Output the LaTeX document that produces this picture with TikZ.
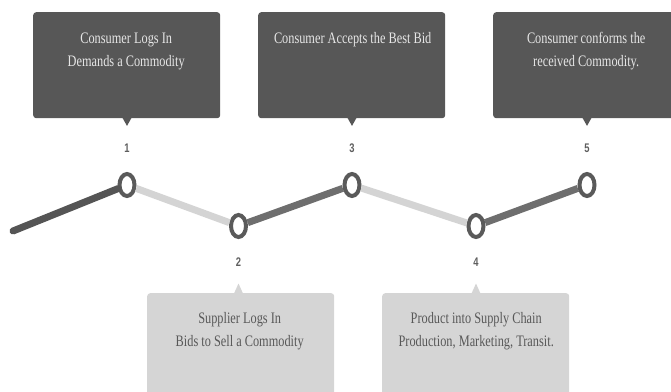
\documentclass[tikz,border=0pt]{standalone}
\usepackage{fontspec}
\setmainfont[FakeStretch=0.77]{Liberation Serif}
\newfontfamily\numfont[FakeStretch=0.75]{Liberation Sans}
\usetikzlibrary{shapes.geometric}

\definecolor{carddark}{HTML}{575757}
\definecolor{cardlight}{HTML}{D5D5D5}
\definecolor{inkdark}{HTML}{585858}
\definecolor{inklight}{HTML}{E6E6E6}
\definecolor{segdark}{HTML}{555555}
\definecolor{segmid}{HTML}{6E6E6E}
\definecolor{seglight}{HTML}{D4D4D4}
\definecolor{ringcol}{HTML}{5A5A5A}
\definecolor{numcol}{HTML}{5E5E5E}

\begin{document}
\begin{tikzpicture}[x=1pt,y=-1pt,
  card/.style={rounded corners=3pt, minimum width=187pt, minimum height=106pt,
    inner sep=0pt, anchor=north west},
  darkcard/.style={card, fill=carddark},
  lightcard/.style={card, fill=cardlight, minimum height=120pt},
  cardtext/.style={align=center, inner sep=0pt,
    font=\fontsize{16}{23}\selectfont},
  darktext/.style={cardtext, text=inklight},
  lighttext/.style={cardtext, text=inkdark},
  milestone/.style={ellipse, draw=ringcol, line width=4pt, fill=white,
    minimum width=15pt, minimum height=22pt, inner sep=0pt},
  numlabel/.style={text=numcol, inner sep=0pt,
    font=\numfont\bfseries\fontsize{12.5}{12.5}\selectfont},
  seg/.style={line width=7pt},
]
\useasboundingbox (0,0) rectangle (671,391);
\clip (0,0) rectangle (671,391);

% timeline milestones
\coordinate (s) at (13,231);
\node[milestone] (c1) at (127,185) {};
\node[milestone] (c2) at (238.5,226) {};
\node[milestone] (c3) at (352,185) {};
\node[milestone] (c4) at (476,226) {};
\node[milestone] (c5) at (587,185) {};

% timeline segments
\draw[seg, segdark, line cap=round] (s) -- (c1);
\draw[seg, seglight] (c1) -- (c2);
\draw[seg, segmid] (c2) -- (c3);
\draw[seg, seglight] (c3) -- (c4);
\draw[seg, segmid] (c4) -- (c5);

% step numbers
\node[numlabel] (n1) at ([yshift=37pt]c1) {1};
\node[numlabel] (n2) at ([yshift=-36pt]c2) {2};
\node[numlabel] (n3) at ([yshift=37pt]c3) {3};
\node[numlabel] (n4) at ([yshift=-36pt]c4) {4};
\node[numlabel] (n5) at ([yshift=37pt]c5) {5};

% upper cards (consumer side)
\node[darkcard] (b1) at (33,12) {};
\node[darkcard] (b3) at (258,12) {};
\node[darkcard] (b5) at (493,12) {};
\fill[carddark] ([xshift=-4.5pt,yshift=0.5pt]c1 |- b1.south) -- ++(4.5,8) -- ++(4.5,-8) -- cycle;
\fill[carddark] ([xshift=-4.5pt,yshift=0.5pt]c3 |- b3.south) -- ++(4.5,8) -- ++(4.5,-8) -- cycle;
\fill[carddark] ([xshift=-4.5pt,yshift=0.5pt]c5 |- b5.south) -- ++(4.5,8) -- ++(4.5,-8) -- cycle;
\node[darktext] (t1) at ([xshift=-0.5pt,yshift=-39.5pt]b1.north) {Consumer Logs In\\Demands a Commodity};
\node[darktext] (t3) at ([xshift=1pt,yshift=-28pt]b3.north) {Consumer Accepts the Best Bid};
\node[darktext] (t5) at ([xshift=-0.5pt,yshift=-39.5pt]b5.north) {Consumer conforms the\\received Commodity.};

% lower cards (supplier side)
\node[lightcard] (b2) at (147,293) {};
\node[lightcard] (b4) at (382,293) {};
\fill[cardlight] ([xshift=-4.5pt,yshift=-0.5pt]c2 |- b2.north) -- ++(4.5,-10) -- ++(4.5,10) -- cycle;
\fill[cardlight] ([xshift=-4.5pt,yshift=-0.5pt]c4 |- b4.north) -- ++(4.5,-10) -- ++(4.5,10) -- cycle;
\node[lighttext] (t2) at ([xshift=-1pt,yshift=-38.5pt]b2.north) {Supplier Logs In\\Bids to Sell a Commodity};
\node[lighttext] (t4) at ([xshift=0.5pt,yshift=-38pt]b4.north) {Product into Supply Chain\\Production, Marketing, Transit.};
\end{tikzpicture}
\end{document}
